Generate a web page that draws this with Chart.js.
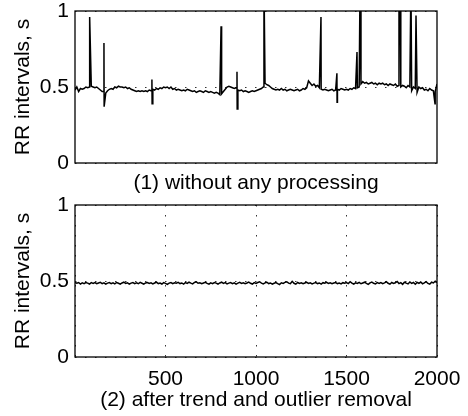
<!DOCTYPE html>
<html>
<head>
<meta charset="utf-8">
<script src="https://cdn.jsdelivr.net/npm/chart.js@4/dist/chart.umd.min.js"></script>
<style>
  html, body { margin: 0; padding: 0; background: #fff; }
  #wrap { position: relative; width: 468px; height: 416px; overflow: hidden; background: #fff; }
  canvas { position: absolute; left: 0; }
  #c1 { top: 0; }
  #c2 { top: 196px; }
</style>
</head>
<body>
<div id="wrap">
  <canvas id="c1" width="468" height="200"></canvas>
  <canvas id="c2" width="468" height="220"></canvas>
</div>
<script>
// ---- data (sample index step between base values) ----
const STEP = 10;

// (1) raw RR intervals, base values every STEP samples (0..2000)
const rawRR = [
  0.48,0.50,0.47,0.49,0.485,0.49,0.50,0.495,0.50,0.505,
  0.50,0.495,0.50,0.49,0.48,0.47,0.47,0.46,0.475,0.485,
  0.49,0.485,0.50,0.495,0.505,0.50,0.50,0.495,0.50,0.49,
  0.495,0.485,0.48,0.475,0.47,0.475,0.47,0.475,0.47,0.475,
  0.47,0.48,0.475,0.485,0.48,0.49,0.485,0.495,0.49,0.50,
  0.495,0.50,0.49,0.50,0.485,0.49,0.48,0.485,0.48,0.475,
  0.48,0.475,0.485,0.48,0.475,0.47,0.475,0.465,0.47,0.475,
  0.47,0.465,0.475,0.47,0.465,0.47,0.465,0.46,0.465,0.46,
  0.45,0.455,0.47,0.485,0.50,0.505,0.50,0.495,0.49,0.495,
  0.48,0.475,0.48,0.47,0.475,0.47,0.465,0.47,0.475,0.47,
  0.475,0.48,0.485,0.49,0.50,0.525,0.515,0.51,0.50,0.49,
  0.485,0.48,0.485,0.48,0.49,0.48,0.485,0.475,0.48,0.485,
  0.48,0.475,0.48,0.485,0.475,0.48,0.49,0.485,0.495,0.54,
  0.525,0.51,0.52,0.505,0.51,0.495,0.485,0.48,0.485,0.48,
  0.475,0.48,0.485,0.475,0.48,0.485,0.48,0.49,0.485,0.48,
  0.485,0.48,0.49,0.485,0.495,0.49,0.495,0.50,0.52,0.535,
  0.525,0.53,0.52,0.525,0.53,0.52,0.525,0.515,0.525,0.52,
  0.525,0.515,0.52,0.51,0.52,0.515,0.51,0.52,0.505,0.51,
  0.50,0.51,0.505,0.495,0.51,0.50,0.475,0.50,0.49,0.465,
  0.50,0.49,0.495,0.48,0.485,0.475,0.49,0.48,0.475,0.47,
  0.52
];

// outlier samples in the raw series (sample index, value)
const outlierIdx = [81, 160, 161, 425, 426, 807, 895, 896, 1044, 1359, 1447, 1448, 1558, 1575, 1790, 1796, 1856, 1884, 1989];
const outlierVal = [0.96, 0.79, 0.37, 0.55, 0.39, 0.90, 0.60, 0.355, 1.2, 0.96, 0.59, 0.40, 0.73, 1.2, 1.2, 1.2, 1.2, 0.97, 0.39];

// (2) after trend and outlier removal, every STEP samples (0..2000)
const cleanRR = [
  0.49,0.485,0.49,0.48,0.488,0.483,0.49,0.486,0.48,0.489,
  0.484,0.49,0.482,0.487,0.491,0.483,0.488,0.48,0.486,0.49,
  0.483,0.488,0.481,0.49,0.485,0.479,0.487,0.492,0.484,0.488,
  0.48,0.486,0.49,0.483,0.488,0.482,0.491,0.485,0.479,0.487,
  0.49,0.484,0.488,0.481,0.487,0.492,0.483,0.486,0.48,0.489,
  0.484,0.478,0.486,0.49,0.482,0.488,0.485,0.491,0.483,0.487,
  0.48,0.489,0.484,0.492,0.486,0.481,0.49,0.494,0.485,0.488,
  0.482,0.487,0.491,0.484,0.479,0.488,0.483,0.49,0.486,0.48,
  0.487,0.492,0.484,0.489,0.481,0.486,0.49,0.483,0.488,0.479,
  0.486,0.491,0.484,0.488,0.482,0.487,0.493,0.485,0.48,0.489,
  0.484,0.49,0.495,0.486,0.481,0.488,0.492,0.483,0.487,0.479,
  0.485,0.49,0.483,0.477,0.488,0.484,0.491,0.495,0.486,0.482,
  0.498,0.485,0.479,0.49,0.484,0.488,0.482,0.487,0.491,0.484,
  0.488,0.481,0.486,0.49,0.483,0.487,0.48,0.489,0.485,0.491,
  0.484,0.488,0.482,0.487,0.49,0.483,0.486,0.481,0.489,0.485,
  0.49,0.483,0.495,0.486,0.48,0.488,0.484,0.491,0.482,0.487,
  0.492,0.484,0.478,0.488,0.493,0.485,0.481,0.489,0.484,0.49,
  0.483,0.488,0.495,0.485,0.479,0.49,0.484,0.488,0.497,0.483,
  0.489,0.478,0.492,0.486,0.481,0.494,0.484,0.49,0.479,0.491,
  0.485,0.493,0.482,0.488,0.496,0.484,0.479,0.492,0.487,0.498,
  0.49
];

const yTicks = [0, 0.5, 1];
const xTicks = [500, 1000, 1500, 2000];
const yLabel = 'RR intervals, s';
const title1 = '(1) without any processing';
const title2 = '(2) after trend and outlier removal';

// ---- build point lists ----
function basePoints(arr) { return arr.map((v, i) => ({ x: i * STEP, y: v })); }
const rawPoints = basePoints(rawRR)
  .concat(outlierIdx.map((ix, k) => ({ x: ix, y: outlierVal[k] })))
  .sort((a, b) => a.x - b.x);
const cleanPoints = basePoints(cleanRR);

// ---- styling ----
const FONT = '"Liberation Sans", Arial, Helvetica, sans-serif';
Chart.defaults.font.family = FONT;
Chart.defaults.color = '#000';

const boxPlugin = {
  id: 'box',
  afterDraw(chart) {
    const { ctx, chartArea: a } = chart;
    ctx.save();
    ctx.strokeStyle = '#000';
    ctx.lineWidth = 1.3;
    ctx.strokeRect(a.left, a.top, a.right - a.left, a.bottom - a.top);
    ctx.restore();
  }
};

function makeChart(id, points, opts) {
  return new Chart(document.getElementById(id), {
    type: 'line',
    data: {
      datasets: [{
        data: points,
        borderColor: '#000',
        borderWidth: 1.5,
        pointRadius: 0,
        tension: 0,
        clip: 0
      }]
    },
    options: {
      responsive: false,
      animation: false,
      layout: { padding: { top: opts.padTop, right: 31, left: 0, bottom: 0 } },
      plugins: { legend: { display: false }, tooltip: { enabled: false } },
      scales: {
        x: {
          type: 'linear',
          min: 0, max: 2000,
          afterBuildTicks(s) { s.ticks = [0].concat(xTicks).map(v => ({ value: v })); },
          afterFit(s) { s.height = opts.xHeight; s.paddingLeft = 0; s.paddingRight = 0; },
          ticks: {
            display: opts.showXTicks,
            font: { size: 21 },
            padding: 10,
            maxRotation: 0,
            callback: v => (v === 0 ? '' : String(v))
          },
          grid: {
            display: opts.xGrid,
            drawTicks: false,
            color: '#333',
            lineWidth: 1
          },
          border: { display: false, dash: [1.5, 8.5] },
          title: {
            display: true,
            text: opts.title,
            font: { size: 21 },
            padding: { top: 0, bottom: opts.titlePadBottom }
          }
        },
        y: {
          min: 0, max: 1,
          afterBuildTicks(s) { s.ticks = yTicks.map(v => ({ value: v })); },
          afterFit(s) { s.width = 75; s.paddingTop = 0; s.paddingBottom = 0; },
          ticks: {
            font: { size: 21 },
            padding: 6,
            callback: v => String(v)
          },
          grid: {
            display: true,
            drawTicks: false,
            color: '#333',
            lineWidth: 1
          },
          border: { display: false, dash: [1.5, 8.5] },
          title: {
            display: true,
            text: yLabel,
            font: { size: 21 },
            padding: { top: 11, bottom: 0 }
          }
        }
      }
    },
    plugins: [boxPlugin]
  });
}

makeChart('c1', rawPoints, {
  padTop: 11, xHeight: 37, showXTicks: false, xGrid: false,
  title: title1, titlePadBottom: 4
});
makeChart('c2', cleanPoints, {
  padTop: 9, xHeight: 59, showXTicks: true, xGrid: true,
  title: title2, titlePadBottom: 3
});
</script>
</body>
</html>
